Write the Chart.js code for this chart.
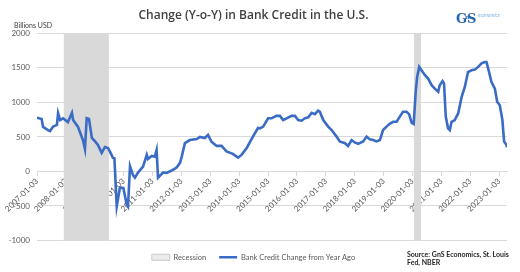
<!DOCTYPE html>
<html>
<head>
<meta charset="utf-8">
<script src="https://cdn.jsdelivr.net/npm/chart.js@4.4.0/dist/chart.umd.min.js"></script>
<style>
  html, body { margin: 0; padding: 0; background: #fff; }
</style>
</head>
<body>
<canvas id="chart" width="520" height="272"></canvas>
<script>
// weekly YoY change (decimal years)
const years = [
  2007.00, 2007.16, 2007.21, 2007.38, 2007.45, 2007.56, 2007.69, 2007.73, 2007.80, 2007.90,
  2008.07, 2008.21, 2008.25, 2008.42, 2008.59, 2008.66, 2008.72, 2008.80, 2008.90, 2009.01,
  2009.11, 2009.24, 2009.35, 2009.46, 2009.58, 2009.63, 2009.68, 2009.76, 2009.87, 2009.99,
  2010.10, 2010.15, 2010.22, 2010.32, 2010.39, 2010.49, 2010.67, 2010.80, 2010.84, 2010.97,
  2011.08, 2011.14, 2011.19, 2011.36, 2011.49, 2011.71, 2011.84, 2011.95, 2012.01, 2012.12,
  2012.29, 2012.53, 2012.64, 2012.81, 2012.92, 2013.04, 2013.22, 2013.39, 2013.56, 2013.78,
  2013.96, 2014.08, 2014.26, 2014.47, 2014.65, 2014.72, 2014.83, 2015.00, 2015.12, 2015.29,
  2015.41, 2015.52, 2015.64, 2015.81, 2015.93, 2016.04, 2016.16, 2016.27, 2016.39, 2016.51,
  2016.62, 2016.73, 2016.79, 2016.91, 2017.08, 2017.20, 2017.37, 2017.48, 2017.66, 2017.77,
  2017.89, 2018.00, 2018.12, 2018.29, 2018.41, 2018.52, 2018.64, 2018.75, 2018.87, 2018.98,
  2019.10, 2019.21, 2019.33, 2019.45, 2019.56, 2019.67, 2019.79, 2019.88, 2019.97, 2020.04,
  2020.11, 2020.16, 2020.23, 2020.31, 2020.43, 2020.54, 2020.66, 2020.77, 2020.89, 2020.94,
  2021.04, 2021.09, 2021.15, 2021.23, 2021.29, 2021.35, 2021.46, 2021.58, 2021.70, 2021.81,
  2021.92, 2022.04, 2022.16, 2022.27, 2022.39, 2022.50, 2022.56, 2022.62, 2022.73, 2022.85,
  2022.93, 2023.02, 2023.11, 2023.17, 2023.25, 2023.27
];
const credit = [
  780, 760, 645, 600, 585, 650, 675, 845, 745, 770,
  715, 850, 745, 645, 455, 325, 770, 760, 485, 435,
  385, 270, 355, 340, 240, 195, 190, -505, -235, -240,
  -470, -505, 75, -50, -90, -20, 70, 240, 180, 225,
  215, 310, -90, -15, -20, 25, 60, 125, 215, 410,
  455, 470, 500, 485, 530, 430, 370, 370, 290, 255,
  200, 240, 340, 500, 630, 625, 650, 770, 770, 805,
  805, 745, 770, 805, 805, 745, 735, 770, 785, 850,
  830, 880, 865, 745, 650, 600, 505, 435, 410, 370,
  455, 420, 400, 435, 505, 465, 455, 435, 455, 600,
  650, 690, 720, 720, 795, 865, 865, 830, 705, 690,
  1155, 1370, 1515, 1465, 1395, 1345, 1250, 1200, 1155, 1250,
  1310, 1275, 795, 625, 600, 720, 745, 840, 1080, 1225,
  1440, 1465, 1475, 1515, 1565, 1585, 1585, 1490, 1300, 1200,
  1010, 960, 745, 435, 385, 350
];

// NBER recessions
const recessionStart = [2007.92, 2020.04];
const recessionEnd = [2009.49, 2020.30];

const tickYears = [2007, 2008, 2009, 2010, 2011, 2012, 2013, 2014, 2015, 2016, 2017, 2018, 2019, 2020, 2021, 2022, 2023];
const tickLabels = ['2007-01-03', '2008-01-03', '2009-01-03', '2010-01-03', '2011-01-03', '2012-01-03',
  '2013-01-03', '2014-01-03', '2015-01-03', '2016-01-03', '2017-01-03', '2018-01-03', '2019-01-03',
  '2020-01-03', '2021-01-03', '2022-01-03', '2023-01-03'];

const yMin = -1000;
const yMax = 2000;

const blue = '#3a6bc5';
const grid = '#d9d9d9';
const smallFont = { family: 'Lato', size: 8 };

const creditSet = {
  label: 'Bank Credit Change from Year Ago',
  data: years.map((x, i) => ({ x: x, y: credit[i] })),
  borderColor: blue,
  borderWidth: 2.6,
  pointRadius: 0,
  fill: false,
  tension: 0
};

const recessionSets = recessionStart.map((s, i) => ({
  label: 'Recession',
  data: [{ x: s, y: yMax }, { x: recessionEnd[i], y: yMax }],
  borderWidth: 0,
  pointRadius: 0,
  backgroundColor: '#d9d9d9',
  fill: 'start'
}));

const extras = {
  id: 'extras',
  afterDraw(chart) {
    const ctx = chart.ctx;
    ctx.save();
    ctx.fillStyle = '#404040';
    ctx.font = '7px Lato';
    ctx.fillText('Billions USD', 14, 26);

    ctx.fillStyle = '#262626';
    ctx.font = 'bold 7px Lato';
    ctx.fillText('Source: GnS Economics, St. Louis', 407, 255);
    ctx.fillText('Fed, NBER', 407, 263);

    // logo
    ctx.fillStyle = '#2866ad';
    ctx.font = 'bold 13px "DejaVu Serif"';
    ctx.fillText('G', 456, 20);
    ctx.fillText('S', 467, 20);
    ctx.font = 'bold 6px "DejaVu Serif"';
    ctx.fillText('n', 465, 17);
    ctx.fillStyle = '#7fb2de';
    ctx.font = 'italic 5px Lato';
    ctx.fillText('economics', 478, 15);
    ctx.restore();
  }
};

new Chart(document.getElementById('chart'), {
  type: 'line',
  data: { datasets: [creditSet].concat(recessionSets) },
  options: {
    responsive: false,
    animation: false,
    layout: { padding: { left: 0, right: 13, top: 0, bottom: 1 } },
    plugins: {
      title: {
        display: true,
        text: 'Change (Y-o-Y) in Bank Credit in the U.S.',
        color: '#404040',
        font: { family: 'Open Sans', size: 12, weight: '600' },
        padding: { top: 8, bottom: 11 }
      },
      legend: {
        position: 'bottom',
        labels: {
          usePointStyle: true,
          pointStyleWidth: 18,
          boxHeight: 6,
          padding: 13,
          color: '#595959',
          font: { family: 'Lato', size: 7.5 },
          generateLabels: () => [
            { text: 'Recession', fillStyle: '#ececec', strokeStyle: '#c9c9c9', lineWidth: 1,
              pointStyle: 'rect', hidden: false, datasetIndex: 1, fontColor: '#595959' },
            { text: 'Bank Credit Change from Year Ago', fillStyle: blue, strokeStyle: blue, lineWidth: 2.5,
              pointStyle: 'line', hidden: false, datasetIndex: 0, fontColor: '#595959' }
          ]
        }
      },
      tooltip: { enabled: false }
    },
    scales: {
      x: {
        type: 'linear',
        min: 2007,
        max: 2023.27,
        position: { y: 0 },
        afterBuildTicks: scale => { scale.ticks = tickYears.map(v => ({ value: v })); },
        ticks: {
          autoSkip: false,
          minRotation: 45,
          maxRotation: 45,
          padding: 1,
          color: '#595959',
          font: smallFont,
          callback: (v, i) => tickLabels[i]
        },
        grid: { drawOnChartArea: false, drawTicks: true, tickLength: 4, color: grid },
        border: { display: true, color: grid }
      },
      y: {
        min: yMin,
        max: yMax,
        afterFit: scale => { scale.width = 37; },
        ticks: { stepSize: 500, padding: 7, color: '#595959', font: smallFont, callback: v => String(v) },
        grid: { color: grid, drawTicks: false },
        border: { display: false }
      }
    }
  },
  plugins: [extras]
});
</script>
</body>
</html>
